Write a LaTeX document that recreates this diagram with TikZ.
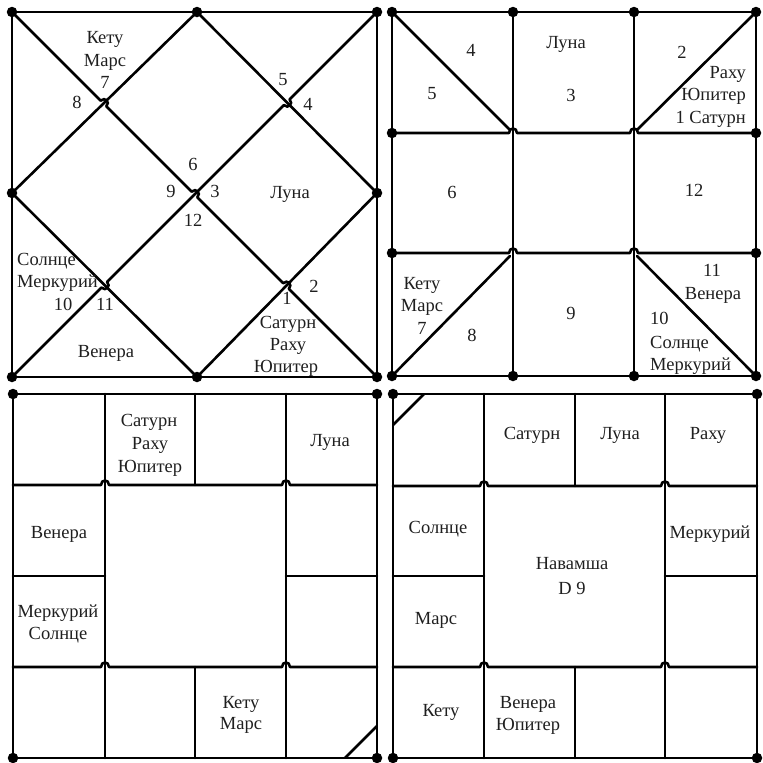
\documentclass[tikz,border=0pt]{standalone}
\usepackage{fontspec}
\setmainfont{Liberation Serif}
\usetikzlibrary{calc}
\newcommand\hopat[3]{-- ($(#2)!4pt!(#1)$) .. controls ($(#2)!4pt!(#1)!6pt!90:(#2)$) and ($(#2)!4pt!(#3)!6pt!-90:(#2)$) .. ($(#2)!4pt!(#3)$)}
\begin{document}
\begin{tikzpicture}[x=1pt,y=-1pt,
  ln/.style={line width=2.6pt, line cap=round, line join=round},
  dot/.style={circle, fill=black, inner sep=0pt, minimum size=10.5pt},
  lbl/.style={inner sep=0pt, text height=12.5pt, text depth=0pt, font=\fontsize{18.5}{21}\selectfont, text=black!88}]
\useasboundingbox (0,0) rectangle (763,763);

% ---------- chart 1 (top-left, North Indian) ----------
\coordinate (A1) at (12,12);  \coordinate (B1) at (377,12);
\coordinate (C1) at (377,377);\coordinate (D1) at (12,377);
\coordinate (T1) at (197,12); \coordinate (L1) at (12,193);
\coordinate (R1) at (377,193);\coordinate (M1) at (197,377);
\coordinate (X1) at (intersection of A1--C1 and L1--T1);
\coordinate (X2) at (intersection of A1--C1 and R1--M1);
\coordinate (O1) at (intersection of A1--C1 and B1--D1);
\coordinate (Y1) at (intersection of B1--D1 and T1--R1);
\coordinate (Y2) at (intersection of B1--D1 and L1--M1);
\draw[ln] (A1) rectangle (C1);
\draw[ln] (T1) -- (R1) -- (M1) -- (L1) -- cycle;
\draw[ln] (A1) \hopat{A1}{X1}{C1} \hopat{A1}{O1}{C1} \hopat{A1}{X2}{C1} -- (C1);
\draw[ln] (B1) \hopat{B1}{Y1}{D1} \hopat{B1}{Y2}{D1} -- (D1);
\foreach \p in {A1,B1,C1,D1,T1,L1,R1,M1} \node[dot] at (\p) {};

\node[lbl] (a1) at (105,37) {Кету};
\node[lbl] (a2) at (105,60) {Марс};
\node[lbl] (a3) at (105,82) {7};
\node[lbl] (a4) at (77,102) {8};
\node[lbl] (a5) at (283,79) {5};
\node[lbl] (a6) at (308,104) {4};
\node[lbl] (a7) at (193,164) {6};
\node[lbl] (a8) at (171,191) {9};
\node[lbl] (a9) at (215,191) {3};
\node[lbl] (a10) at (193,220) {12};
\node[lbl] (a11) at (290,192) {Луна};
\node[lbl,anchor=west] (a12) at (17,259) {Солнце};
\node[lbl,anchor=west] (a13) at (17,281) {Меркурий};
\node[lbl] (a14) at (63,304) {10};
\node[lbl] (a15) at (105,304) {11};
\node[lbl] (a16) at (106,351) {Венера};
\node[lbl] (a17) at (287,298) {1};
\node[lbl] (a18) at (314,286) {2};
\node[lbl] (a19) at (288,322) {Сатурн};
\node[lbl] (a20) at (288,344) {Раху};
\node[lbl] (a21) at (286,366) {Юпитер};

% ---------- chart 2 (top-right, 3x3) ----------
\draw[ln] (392,12) rectangle (756,376);
\draw[ln] (513,12) -- (513,376);
\draw[ln] (634,12) -- (634,376);
\draw[ln] (392,133) \hopat{392,133}{513,133}{756,133} \hopat{392,133}{634,133}{756,133} -- (756,133);
\draw[ln] (392,253) \hopat{392,253}{513,253}{756,253} \hopat{392,253}{634,253}{756,253} -- (756,253);
\draw[ln] (392,12) -- (510,130);
\draw[ln] (756,12) -- (637,130);
\draw[ln] (392,376) -- (510,256);
\draw[ln] (637,256) -- (756,376);
\foreach \x/\y in {392/12,513/12,634/12,756/12,392/133,756/133,392/253,756/253,392/376,513/376,634/376,756/376}
  \node[dot] at (\x,\y) {};

\node[lbl] (b1) at (471,50) {4};
\node[lbl] (b2) at (432,93) {5};
\node[lbl] (b3) at (566,42) {Луна};
\node[lbl] (b4) at (571,95) {3};
\node[lbl] (b5) at (682,52) {2};
\node[lbl,anchor=east] (b6) at (746,72) {Раху};
\node[lbl,anchor=east] (b7) at (746,94) {Юпитер};
\node[lbl,anchor=east] (b8) at (746,117) {1 Сатурн};
\node[lbl] (b9) at (452,192) {6};
\node[lbl] (b10) at (694,190) {12};
\node[lbl] (b11) at (571,313) {9};
\node[lbl] (b12) at (422,283) {Кету};
\node[lbl] (b13) at (422,305) {Марс};
\node[lbl] (b14) at (422,328) {7};
\node[lbl] (b15) at (472,335) {8};
\node[lbl] (b16) at (712,270) {11};
\node[lbl] (b17) at (713,293) {Венера};
\node[lbl,anchor=west] (b18) at (650,318) {10};
\node[lbl,anchor=west] (b19) at (650,342) {Солнце};
\node[lbl,anchor=west] (b20) at (650,364) {Меркурий};

% ---------- chart 3 (bottom-left, 4x4) ----------
\draw[ln] (13,394) rectangle (377,758);
\draw[ln] (105,394) -- (105,758);
\draw[ln] (286,394) -- (286,758);
\draw[ln] (195,394) -- (195,485);
\draw[ln] (195,667) -- (195,758);
\draw[ln] (13,485) \hopat{13,485}{105,485}{377,485} \hopat{13,485}{286,485}{377,485} -- (377,485);
\draw[ln] (13,667) \hopat{13,667}{105,667}{377,667} \hopat{13,667}{286,667}{377,667} -- (377,667);
\draw[ln] (13,576) -- (105,576);
\draw[ln] (286,576) -- (377,576);
\draw[ln] (345,758) -- (377,726);
\foreach \x/\y in {13/394,377/394,13/758,377/758} \node[dot] at (\x,\y) {};

\node[lbl] (c1) at (149,420) {Сатурн};
\node[lbl] (c2) at (150,443) {Раху};
\node[lbl] (c3) at (150,466) {Юпитер};
\node[lbl] (c4) at (330,440) {Луна};
\node[lbl] (c5) at (59,532) {Венера};
\node[lbl] (c6) at (58,611) {Меркурий};
\node[lbl] (c7) at (58,633) {Солнце};
\node[lbl] (c8) at (241,702) {Кету};
\node[lbl] (c9) at (241,723) {Марс};

% ---------- chart 4 (bottom-right, 4x4) ----------
\draw[ln] (393,394) rectangle (757,758);
\draw[ln] (484,394) -- (484,758);
\draw[ln] (665,394) -- (665,758);
\draw[ln] (575,394) -- (575,486);
\draw[ln] (575,667) -- (575,758);
\draw[ln] (393,486) \hopat{393,486}{484,486}{757,486} \hopat{393,486}{665,486}{757,486} -- (757,486);
\draw[ln] (393,667) \hopat{393,667}{484,667}{757,667} \hopat{393,667}{665,667}{757,667} -- (757,667);
\draw[ln] (393,576) -- (484,576);
\draw[ln] (665,576) -- (757,576);
\draw[ln] (393,425) -- (424,394);
\foreach \x/\y in {393/394,757/394,393/758,757/758} \node[dot] at (\x,\y) {};

\node[lbl] (d1) at (532,433) {Сатурн};
\node[lbl] (d2) at (620,433) {Луна};
\node[lbl] (d3) at (708,433) {Раху};
\node[lbl] (d4) at (438,527) {Солнце};
\node[lbl] (d5) at (710,532) {Меркурий};
\node[lbl] (d6) at (572,563) {Навамша};
\node[lbl] (d7) at (572,588) {D 9};
\node[lbl] (d8) at (436,618) {Марс};
\node[lbl] (d9) at (441,710) {Кету};
\node[lbl] (d10) at (528,702) {Венера};
\node[lbl] (d11) at (528,724) {Юпитер};
\end{tikzpicture}
\end{document}
